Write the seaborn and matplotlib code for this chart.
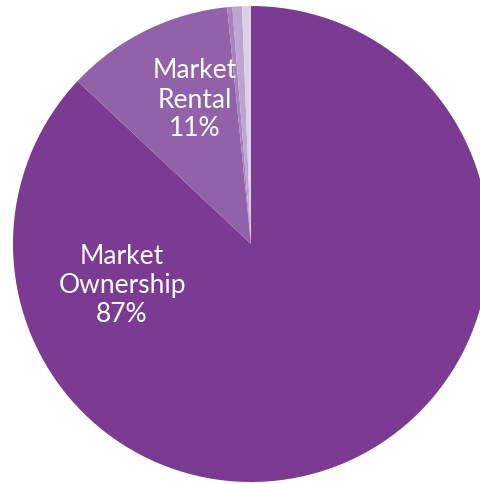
import matplotlib
matplotlib.use("Agg")
import matplotlib.pyplot as plt
import seaborn as sns

# slices clockwise from 12 o'clock
segments = ["Market Ownership", "Market Rental", "Other A", "Other B", "Other C"]
shares = [87.0, 11.4, 0.35, 0.65, 0.6]
colors = ["#7B3B93", "#9162A9", "#A882BD", "#BDA5D1", "#DCD0E8"]

labels = {
    "Market Ownership": ("Market\nOwnership\n87%", (-129, -40)),
    "Market Rental": ("Market\nRental\n11%", (-56, 145)),
}

sns.set_style("white")
plt.rcParams["font.family"] = ["Lato", "DejaVu Sans"]

fig = plt.figure(figsize=(4.81, 4.85), dpi=100)
ax = fig.add_axes([0, 0, 1, 1])
R = 238
ax.pie(shares, colors=colors, startangle=90, counterclock=False, radius=R,
       center=(0, 0), wedgeprops=dict(linewidth=0))
for name in segments:
    if name in labels:
        txt, (x, y) = labels[name]
        ax.text(x, y, txt, ha="center", va="center", color="white",
                fontsize=19, fontweight="normal", linespacing=1.2)

ax.set_xlim(-251, 481 - 251)
ax.set_ylim(-(485 - 245), 245)
ax.set_aspect("equal")
ax.axis("off")
fig.savefig("out.png", dpi=100)
